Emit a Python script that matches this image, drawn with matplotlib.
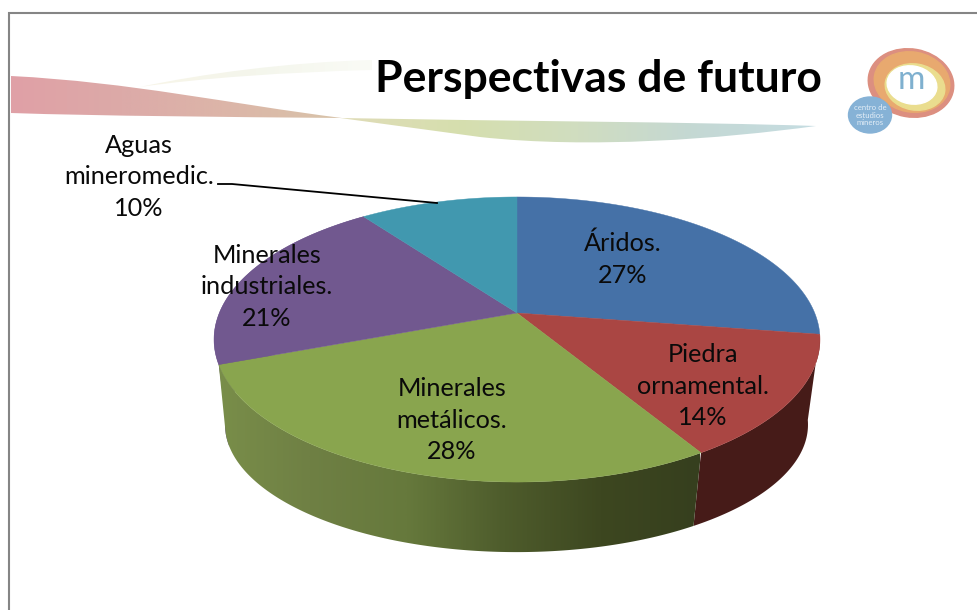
import matplotlib
matplotlib.use('Agg')
import matplotlib.pyplot as plt
import numpy as np
from matplotlib.colors import LinearSegmentedColormap
from matplotlib.patches import Ellipse, PathPatch
from matplotlib.path import Path

categories = ['Áridos.', 'Piedra\nornamental.', 'Minerales\nmetálicos.', 'Minerales\nindustriales.', 'Aguas\nmineromedic.']
percent = [27.4, 13.9, 28.0, 20.6, 10.1]
top_colors = ['#4571A7', '#AA4643', '#89A54E', '#71588F', '#4198AF']
side_colors = ['#2f4a70', '#461b18', '#5d7038', '#65508c', '#2d6b7c']
label_pos = [(623, 259), (703, 386), (452, 420), (267, 287), (139, 177)]

plt.rcParams['font.family'] = ['Lato', 'DejaVu Sans']

fig = plt.figure(figsize=(9.77, 6.10), dpi=100)
ax = fig.add_axes([0, 0, 1, 1])


def gradient(path, colors, x0, x1, y0, y1, zorder=1):
    # horizontal colour ramp clipped to a curved shape
    cmap = LinearSegmentedColormap.from_list('g', colors)
    img = ax.imshow(np.linspace(0, 1, 400).reshape(1, -1), cmap=cmap, extent=(x0, x1, y1, y0),
                    aspect='auto', zorder=zorder)
    img.set_clip_path(PathPatch(path, transform=ax.transData))


C4 = Path.CURVE4
# faint swoosh behind the title
gradient(Path([(140, 87), (200, 74), (290, 62), (372, 60), (372, 70), (290, 72), (200, 78), (140, 87), (140, 87)],
              [Path.MOVETO, C4, C4, C4, Path.LINETO, C4, C4, C4, Path.CLOSEPOLY]),
         ['#f8f5e8', '#f4f6ec', '#fafbf6'], 140, 372, 55, 90)
# red swoosh
gradient(Path([(11, 76), (130, 82), (230, 104), (342, 118), (230, 117), (100, 116), (11, 113), (11, 76)],
              [Path.MOVETO, C4, C4, C4, C4, C4, C4, Path.CLOSEPOLY]),
         ['#e0a0a6', '#dcaaa8', '#dcb6a8', '#d8c4aa'], 11, 342, 70, 120)
# green-blue swoosh
gradient(Path([(340, 118), (500, 121), (700, 122), (816, 126), (720, 139), (590, 149), (480, 137), (340, 118), (340, 118)],
              [Path.MOVETO, C4, C4, C4, C4, C4, C4, Path.LINETO, Path.CLOSEPOLY]),
         ['#e0dcb8', '#d6dfae', '#d0ddc0', '#c4d8d4', '#c6dde2'], 340, 816, 115, 145)

# gray slide border
ax.plot([9, 9, 977], [610, 13, 13], color='#858585', lw=1.5, solid_joinstyle='miter', zorder=2)

# pie geometry: a tilted circle with some perspective
cx, cy, rx, ry, k = 517, 313, 297.7, 137.6, 0.186
bx, by, brx, bry = 516.5, 401, 286.4, 123.0


def project(theta, x0, y0, a, b):
    x = np.sin(theta)
    y = np.cos(theta)
    return x0 + a * x / (1 + k * y), y0 - b * y / (1 + k * y)


edges = 2 * np.pi * np.cumsum([0] + percent) / sum(percent)

# side wall, drawn far to near so the rim hides what is behind
for i in [3, 1, 2]:
    t = np.linspace(edges[i], edges[i + 1], 200)
    xt, yt = project(t, cx, cy, rx, ry)
    # the front slice wraps a little further round the lower rim
    tb = np.linspace(edges[i], edges[i + 1] + np.radians(6), 200) if i == 2 else t
    xb, yb = project(tb, bx, by, brx, bry)
    px = np.r_[xt, xb[::-1]]
    py = np.r_[yt, yb[::-1]]
    if i == 2:
        # the front slice darkens from left to right
        wall = Path(np.column_stack([np.r_[px, px[0]], np.r_[py, py[0]]]), closed=True)
        gradient(wall, ['#7a8f4a', '#6f8044', '#66793c', '#4e5c2c', '#3d4720', '#363f1e'],
                 210, 700, 350, 560, zorder=3)
    else:
        ax.fill(px, py, color=side_colors[i], lw=0, zorder=3)

# top face
for i in range(len(percent)):
    t = np.linspace(edges[i], edges[i + 1], 200)
    xs, ys = project(t, cx, cy, rx, ry)
    ax.fill(np.r_[cx, xs], np.r_[cy, ys], color=top_colors[i], lw=0.3, zorder=4)

# labels
for name, p, pos in zip(categories, percent, label_pos):
    ax.text(pos[0], pos[1], f'{name}\n{round(p)}%', ha='center', va='center', fontsize=18.2,
            linespacing=1.45, color='#0a0a0a', zorder=6)

# leader line for the small slice
ax.plot([218, 232, 437], [184, 184, 203], color='black', lw=1.3, zorder=5)

ax.text(598, 79, 'Perspectivas de futuro', ha='center', va='center', fontsize=32, fontweight='bold',
        color='black', zorder=6)

# logo
ax.add_patch(Ellipse((911, 83), 86, 68, angle=10, color='#dc8f80', zorder=3))
ax.add_patch(Ellipse((912, 82), 76, 60, angle=10, color='#e8a96f', zorder=3))
ax.add_patch(Ellipse((915, 87), 60, 46, angle=10, color='#eadd8e', zorder=3))
ax.add_patch(Ellipse((912, 85), 50, 38, angle=10, color='white', zorder=3))
ax.text(911, 80, 'm', ha='center', va='center', fontsize=24, color='#7fb0cf', zorder=4)
ax.add_patch(Ellipse((870, 115), 43, 36, color='#86b2d6', zorder=4))
ax.text(870, 115, 'centro de\nestudios\nmineros', ha='center', va='center', fontsize=5.6,
        linespacing=1.05, color='#e4eef7', zorder=5)

ax.set_xlim(0, 977)
ax.set_ylim(610, 0)
ax.axis('off')

fig.savefig('out.png', dpi=100, facecolor='white')
